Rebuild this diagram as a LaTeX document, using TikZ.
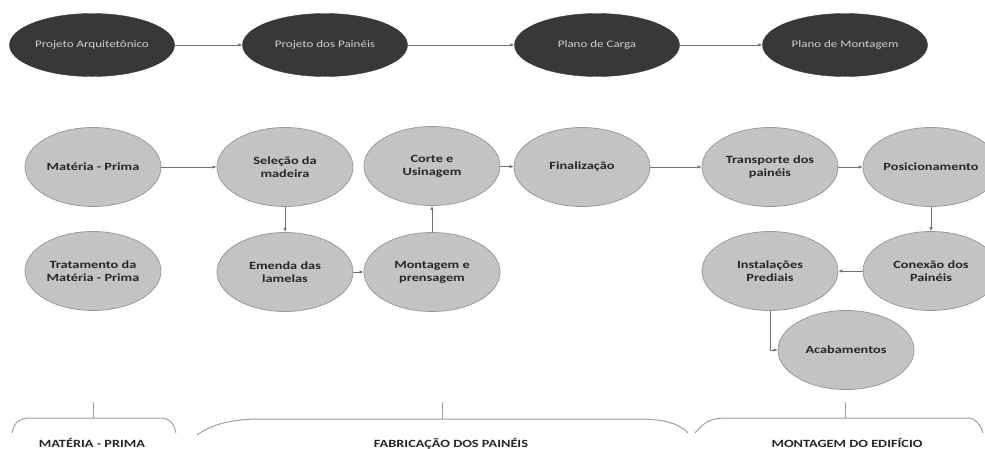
\documentclass[tikz,border=0pt]{standalone}
\usepackage{fontspec}
\newfontfamily\cfont[FakeStretch=1.3]{Carlito}
\usetikzlibrary{shapes.geometric,arrows.meta}
\definecolor{darkfill}{HTML}{383838}
\definecolor{lightfill}{HTML}{C3C3C3}
\definecolor{lightedge}{HTML}{9A9A9A}
\definecolor{linegray}{HTML}{707070}
\definecolor{bracegray}{HTML}{A0A0A0}
\begin{document}
\begin{tikzpicture}[x=1pt,y=-1pt,
  topnode/.style={ellipse,fill=darkfill,draw=darkfill,minimum width=165pt,minimum height=63pt,inner sep=0pt,
    text=white!82!black,font=\cfont\fontsize{10}{12}\selectfont},
  midnode/.style={ellipse,fill=lightfill,draw=lightedge,line width=0.8pt,minimum width=136pt,minimum height=79pt,inner sep=0pt,
    align=center,text=black!85,font=\cfont\bfseries\fontsize{11}{13}\selectfont},
  conn/.style={draw=linegray,line width=0.8pt,-{Latex[length=4pt,width=3.5pt]}},
  bracel/.style={draw=bracegray,line width=1pt},
  grouplabel/.style={anchor=base,inner sep=0pt,text=black!85,font=\cfont\bfseries\fontsize{11}{13}\selectfont}]
\useasboundingbox (0,0) rectangle (985,448);
% top row
\node[topnode] (a1) at (92,45) {Projeto Arquitetônico};
\node[topnode] (a2) at (325,45) {Projeto dos Painéis};
\node[topnode] (a3) at (597,45) {Plano de Carga};
\node[topnode] (a4) at (845,45) {Plano de Montagem};
\draw[conn] (a1) -- (a2);
\draw[conn] (a2) -- (a3);
\draw[conn] (a3) -- (a4);
% middle
\node[midnode] (mp) at (93,167) {Matéria - Prima};
\node[midnode] (tr) at (93,271) {Tratamento da\\Matéria - Prima};
\node[midnode] (se) at (285,167) {Seleção da\\madeira};
\node[midnode] (em) at (285,272) {Emenda das\\lamelas};
\node[midnode] (co) at (432,166) {Corte e\\Usinagem};
\node[midnode] (mo) at (432,272) {Montagem e\\prensagem};
\node[midnode] (fi) at (582,167) {Finalização};
\node[midnode] (tp) at (770,167) {Transporte dos\\painéis};
\node[midnode] (po) at (931,167) {Posicionamento};
\node[midnode] (cn) at (931,271) {Conexão dos\\Painéis};
\node[midnode] (in) at (770,271) {Instalações\\Prediais};
\node[midnode] (ac) at (846,350) {Acabamentos};
\draw[conn] (mp) -- (se);
\draw[conn] (se) -- (em);
\draw[conn] (em) -- (mo);
\draw[conn] (mo) -- (co);
\draw[conn] (co) -- (fi);
\draw[conn] (fi) -- (tp);
\draw[conn] (tp) -- (po);
\draw[conn] (po) -- (cn);
\draw[conn] (cn) -- (in);
\draw[conn] (in.south) |- (ac.west);
% braces
\draw[bracel] (12,433) .. controls (14,423) and (19,418) .. (30,418) -- (160,418) .. controls (170,418) and (174,424) .. (176,433);
\draw[bracel] (93,402) -- (93,418);
\draw[bracel] (197,435) .. controls (212,424) and (232,419) .. (262,419) -- (640,419) .. controls (668,419) and (682,426) .. (688,433);
\draw[bracel] (442,402) -- (442,419);
\draw[bracel] (695,433) .. controls (702,425) and (708,418) .. (725,418) -- (968,418) .. controls (976,418) and (981,426) .. (983,433);
\draw[bracel] (845,402) -- (845,418);
\node[grouplabel] (l1) at (92,447) {MATÉRIA - PRIMA};
\node[grouplabel] (l2) at (451,447) {FABRICAÇÃO DOS PAINÉIS};
\node[grouplabel] (l3) at (847,447) {MONTAGEM DO EDIFÍCIO};
\end{tikzpicture}
\end{document}
